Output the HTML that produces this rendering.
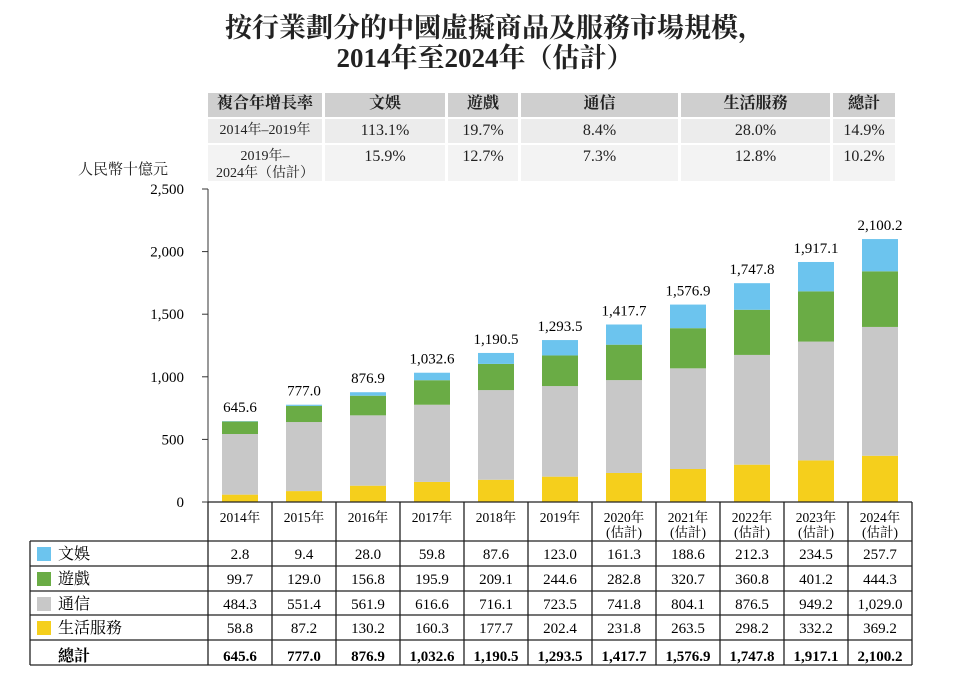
<!DOCTYPE html>
<html><head><meta charset="utf-8">
<style>
body{margin:0;width:970px;height:684px;background:#fff;position:relative;overflow:hidden;font-family:"Liberation Serif","Noto Serif CJK SC","Noto Sans CJK TC",serif;color:#222}
.t{position:absolute;left:0;width:970px;text-align:center;font-weight:bold;font-size:27px}
.cg{position:absolute;font-size:16px;text-align:center;box-sizing:border-box;background:#ececec}
.cg.h{background:#cfcfcf;font-weight:bold;font-size:16px}
</style></head><body>
<div class="t" style="top:6px;left:10px">按行業劃分的中國虛擬商品及服務市場規模，</div>
<div class="t" style="top:36px">2014年至2024年（估計）</div>
<div id="cagr"></div>
<div style="position:absolute;left:78px;top:158px;font-size:15px">人民幣十億元</div>
<svg id="ch" width="970" height="684" style="position:absolute;left:0;top:0"></svg>
<script>
const years=["2014年","2015年","2016年","2017年","2018年","2019年","2020年\n(估計)","2021年\n(估計)","2022年\n(估計)","2023年\n(估計)","2024年\n(估計)"];
const ent=[2.8,9.4,28.0,59.8,87.6,123.0,161.3,188.6,212.3,234.5,257.7];
const game=[99.7,129.0,156.8,195.9,209.1,244.6,282.8,320.7,360.8,401.2,444.3];
const comm=[484.3,551.4,561.9,616.6,716.1,723.5,741.8,804.1,876.5,949.2,1029.0];
const life=[58.8,87.2,130.2,160.3,177.7,202.4,231.8,263.5,298.2,332.2,369.2];
const totals=[645.6,777.0,876.9,1032.6,1190.5,1293.5,1417.7,1576.9,1747.8,1917.1,2100.2];
const yTicks=[0,500,1000,1500,2000,2500];
const cagrHead=["複合年增長率","文娛","遊戲","通信","生活服務","總計"];
const cagr1=["2014年–2019年","113.1%","19.7%","8.4%","28.0%","14.9%"];
const cagr2=["2019年–<br>2024年（估計）","15.9%","12.7%","7.3%","12.8%","10.2%"];

const NS="http://www.w3.org/2000/svg",svg=document.getElementById('ch');
const x0=208,cw=64,y0=502,yTop=189,ymax=2500;
const y=v=>y0-v/ymax*(y0-yTop);
const fmt=v=>v.toLocaleString('en-US',{minimumFractionDigits:1,maximumFractionDigits:1});
function el(t,a,txt){const e=document.createElementNS(NS,t);for(const k in a)e.setAttribute(k,a[k]);if(txt!=null)e.textContent=txt;svg.appendChild(e);return e;}
const ax=el('line',{x1:x0,y1:yTop,x2:x0,y2:y0,stroke:'#333'});


yTicks.forEach(t=>{
 const l=el('line',{x1:x0-6,x2:x0,y1:y(t),y2:y(t),stroke:'#333'});
 
 
 const tx=el('text',{x:x0-24,y:y(t)+5,'text-anchor':'end','font-size':15},t.toLocaleString('en-US'));
 
 
});
const series=[[life,'#f5cf1c','life'],[comm,'#c8c8c8','comm'],[game,'#6aac45','game'],[ent,'#6cc4ee','ent']];
years.forEach((yr,i)=>{
 const bx=x0+i*cw+14;let acc=0;
 series.forEach(([arr,c,n])=>{
  const r=el('rect',{x:bx,width:36,y:y(acc+arr[i]),height:y(acc)-y(acc+arr[i]),fill:c});
  
  
  acc+=arr[i];
 });
 const tl=el('text',{x:bx+18,y:y(totals[i])-9,'text-anchor':'middle','font-size':15},fmt(totals[i]));
 
 
});
const rows=[[ent,'#6cc4ee','文娛'],[game,'#6aac45','遊戲'],[comm,'#c8c8c8','通信'],[life,'#f5cf1c','生活服務']];
const rY=[541,566,591,615,640,665];
function ln(a){const l=el('line',Object.assign({stroke:'#222','stroke-width':1.3},a));}
ln({x1:x0,x2:x0+11*cw,y1:y0,y2:y0});
for(let i=0;i<=11;i++)ln({x1:x0+i*cw,x2:x0+i*cw,y1:y0,y2:665});
rY.forEach(yy=>ln({x1:30,x2:x0+11*cw,y1:yy,y2:yy}));
ln({x1:30,x2:30,y1:541,y2:665});
years.forEach((yr,i)=>{
 const p=yr.split('\n');
 p.forEach((s,k)=>{const t=el('text',{x:x0+i*cw+cw/2,y:522+k*15,'text-anchor':'middle','font-size':13.5},s);
 });
});
rows.forEach(([arr,c,n],r)=>{
 const sw=el('rect',{x:37,y:rY[r]+6,width:14,height:14,fill:c});
 
 const lt=el('text',{x:58,y:rY[r]+18,'font-size':16},n);
 
 arr.forEach((v,i)=>{const t=el('text',{x:x0+i*cw+cw/2,y:rY[r]+18,'text-anchor':'middle','font-size':15},fmt(v));
 });
});
const tt=el('text',{x:58,y:661,'font-size':16,'font-weight':'bold'},'總計');

totals.forEach((v,i)=>{const t=el('text',{x:x0+i*cw+cw/2,y:661,'text-anchor':'middle','font-size':15,'font-weight':'bold'},fmt(v));
});
const cx=[[208,322],[325,445],[448,518],[521,678],[681,830],[833,895]];
const rowsY=[[93,117],[119,143],[145,181]];
const cg=document.getElementById('cagr');
[cagrHead,cagr1,cagr2].forEach((row,r)=>row.forEach((s,c)=>{
 const d=document.createElement('div');d.className='cg'+(r==0?' h':'');
 const fs=(c==0&&r>0)?14:16;
 d.style.cssText+=`left:${cx[c][0]}px;width:${cx[c][1]-cx[c][0]}px;top:${rowsY[r][0]}px;height:${rowsY[r][1]-rowsY[r][0]}px;padding-top:${r==0?2:3}px;line-height:17px;font-size:${fs}px;${r==2?'background:#f3f3f3':''}`;
 d.innerHTML=s;
 
 
 cg.appendChild(d);
}));
</script>
</body></html>
